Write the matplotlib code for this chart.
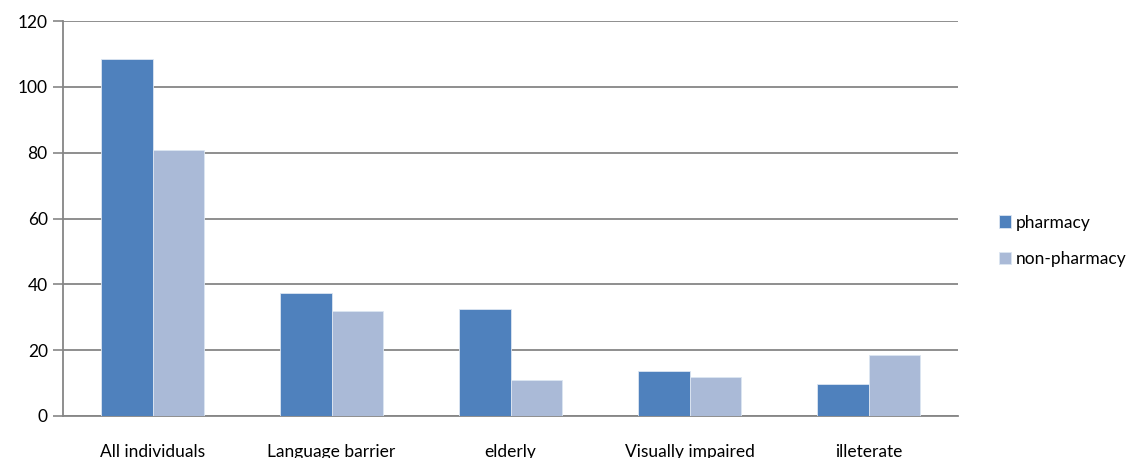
import matplotlib.pyplot as plt
import numpy as np

categories = ["All individuals", "Language barrier", "elderly", "Visually impaired", "illeterate"]
pharmacy = [108.6, 37.4, 32.4, 13.6, 9.6]
non_pharmacy = [80.8, 31.8, 10.8, 11.9, 18.5]
yticks = [0, 20, 40, 60, 80, 100, 120]

plt.rcParams['font.family'] = ['Lato', 'DejaVu Sans']

fig = plt.figure(figsize=(11.35, 4.58), dpi=100)
ax = fig.add_axes([63 / 1135, 1 - 416 / 458, (958 - 63) / 1135, (416 - 21) / 458])

x = np.arange(len(categories))
w = 0.285
ax.bar(x - w / 2, pharmacy, w, color='#4F81BD', edgecolor='#DCE6F2', linewidth=0.6, label='pharmacy', zorder=3)
ax.bar(x + w / 2, non_pharmacy, w, color='#AABAD7', edgecolor='#DCE6F2', linewidth=0.6, label='non-pharmacy', zorder=3)

ax.set_xlim(-0.5, len(categories) - 0.5)
ax.set_ylim(0, 120)
ax.set_yticks(yticks)
ax.set_xticks(x)
ax.set_xticklabels(categories, fontsize=12.5)
ax.tick_params(axis='y', labelsize=12.5, length=7, color='#868686', width=1.2, pad=4)
ax.tick_params(axis='x', length=0, pad=20)
ax.yaxis.grid(True, color='#868686', linewidth=1.3, zorder=0)

for s in ['top', 'right']:
    ax.spines[s].set_visible(False)
ax.spines['left'].set_color('#868686')
ax.spines['left'].set_linewidth(1.3)
ax.spines['bottom'].set_color('#868686')
ax.spines['bottom'].set_linewidth(1.3)

fig.legend(loc='center left', bbox_to_anchor=(983 / 1135, 1 - 241 / 458), frameon=False,
           fontsize=12.5, handlelength=0.7, handleheight=0.7, handletextpad=0.3, labelspacing=1.2)

fig.savefig('out.png', dpi=100)
